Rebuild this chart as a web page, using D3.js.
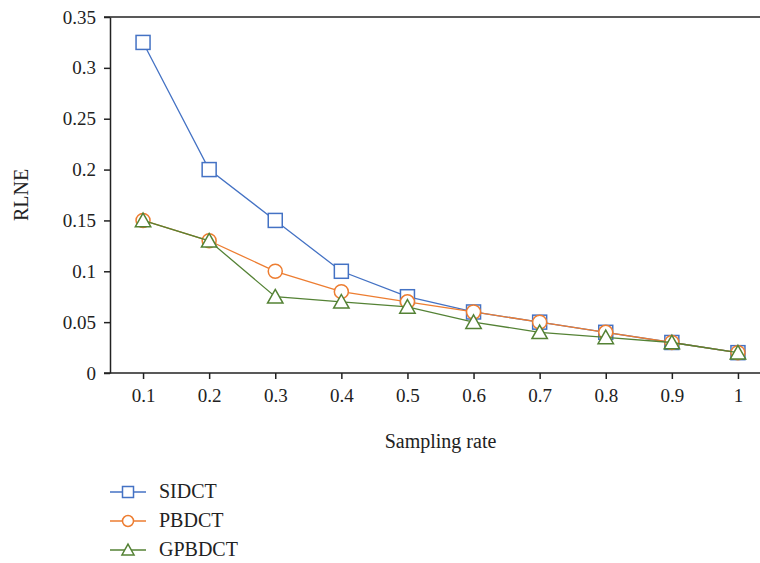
<!DOCTYPE html>
<html>
<head>
<meta charset="utf-8">
<script src="https://cdn.jsdelivr.net/npm/d3@7"></script>
<style>
  html, body { margin: 0; padding: 0; background: #fff; }
  svg { display: block; }
  text { font-family: "Liberation Serif", "DejaVu Serif", serif; fill: #222; }
</style>
</head>
<body>
<svg id="chart" width="760" height="563"></svg>
<script>
// Sampling rates on the x axis
const samplingRates = [0.1, 0.2, 0.3, 0.4, 0.5, 0.6, 0.7, 0.8, 0.9, 1.0];

// RLNE per method
const sidct  = [0.325, 0.2, 0.15, 0.1, 0.075, 0.06, 0.05, 0.04, 0.03, 0.02];
const pbdct  = [0.15, 0.13, 0.1, 0.08, 0.07, 0.06, 0.05, 0.04, 0.03, 0.02];
const gpbdct = [0.15, 0.13, 0.075, 0.07, 0.065, 0.05, 0.04, 0.035, 0.03, 0.02];

const seriesNames = ["SIDCT", "PBDCT", "GPBDCT"];
const xTickLabels = ["0.1", "0.2", "0.3", "0.4", "0.5", "0.6", "0.7", "0.8", "0.9", "1"];
const yTickValues = [0, 0.05, 0.1, 0.15, 0.2, 0.25, 0.3, 0.35];
const yTickLabels = ["0", "0.05", "0.1", "0.15", "0.2", "0.25", "0.3", "0.35"];

const series = [
  { name: seriesNames[0], values: sidct,  color: "#4472C4", symbol: "square" },
  { name: seriesNames[1], values: pbdct,  color: "#ED7D31", symbol: "circle" },
  { name: seriesNames[2], values: gpbdct, color: "#548235", symbol: "triangle" }
];

const svg = d3.select("#chart");
const plotLeft = 110, plotRight = 771, plotTop = 17, plotBottom = 373;

const x = d3.scaleLinear().domain([0.05, 1.05]).range([plotLeft, plotRight]);
const y = d3.scaleLinear().domain([0, 0.35]).range([plotBottom, plotTop]);

// Frame: top border line plus the two axes
svg.append("line")
  .attr("x1", plotLeft - 6).attr("x2", plotRight)
  .attr("y1", plotTop).attr("y2", plotTop)
  .attr("stroke", "#222").attr("stroke-width", 1.5);

const xAxis = d3.axisBottom(x)
  .tickValues(samplingRates)
  .tickFormat((d, i) => xTickLabels[i])
  .tickSizeOuter(0).tickSizeInner(6).tickPadding(10);
const gx = svg.append("g").attr("transform", `translate(0,${plotBottom})`).call(xAxis);
gx.select(".domain").attr("d", `M${plotLeft - 6},0H${plotRight}`);

const yAxis = d3.axisLeft(y)
  .tickValues(yTickValues)
  .tickFormat((d, i) => yTickLabels[i])
  .tickSizeOuter(0).tickSizeInner(6).tickPadding(8);
svg.append("g").attr("transform", `translate(${plotLeft},0)`).call(yAxis);

svg.selectAll(".domain, .tick line").attr("stroke", "#222").attr("stroke-width", 1.5);
svg.selectAll(".tick text")
  .style("font-size", "19px")
  .style("font-family", "'Liberation Serif', serif")
  .attr("fill", "#222");

// Axis titles
svg.append("text")
  .attr("x", (plotLeft + plotRight) / 2).attr("y", 448)
  .attr("text-anchor", "middle").style("font-size", "20px")
  .text("Sampling rate");

svg.append("text")
  .attr("transform", "translate(28,195) rotate(-90)")
  .attr("text-anchor", "middle").style("font-size", "20px")
  .text("RLNE");

function drawSymbol(g, type, cx, cy, size, color) {
  if (type === "square") {
    g.append("rect")
      .attr("x", cx - size / 2).attr("y", cy - size / 2)
      .attr("width", size).attr("height", size)
      .attr("fill", "#fff").attr("stroke", color).attr("stroke-width", 1.5);
  } else if (type === "circle") {
    g.append("circle")
      .attr("cx", cx).attr("cy", cy).attr("r", size / 2)
      .attr("fill", "#fff").attr("stroke", color).attr("stroke-width", 1.5);
  } else {
    const h = size * 0.9, w = size * 1.1;
    g.append("path")
      .attr("d", `M${cx},${cy - h / 2 - 1}L${cx + w / 2},${cy + h / 2}L${cx - w / 2},${cy + h / 2}Z`)
      .attr("fill", "#fff").attr("stroke", color).attr("stroke-width", 1.5);
  }
}

const line = d3.line()
  .x((d, i) => x(samplingRates[i]))
  .y(d => y(d));

series.forEach(s => {
  const g = svg.append("g");
  g.append("path")
    .datum(s.values)
    .attr("d", line)
    .attr("fill", "none")
    .attr("stroke", s.color)
    .attr("stroke-width", 1.3);
  s.values.forEach((v, i) => drawSymbol(g, s.symbol, x(samplingRates[i]), y(v), 14, s.color));
});

// Legend
const legendY = [492, 521, 550];
series.forEach((s, i) => {
  const g = svg.append("g");
  g.append("line")
    .attr("x1", 110).attr("x2", 146)
    .attr("y1", legendY[i]).attr("y2", legendY[i])
    .attr("stroke", s.color).attr("stroke-width", 1.3);
  drawSymbol(g, s.symbol, 128, legendY[i], 11, s.color);
  g.append("text")
    .attr("x", 159).attr("y", legendY[i] + 6)
    .style("font-size", "20px")
    .text(s.name);
});
</script>
</body>
</html>
